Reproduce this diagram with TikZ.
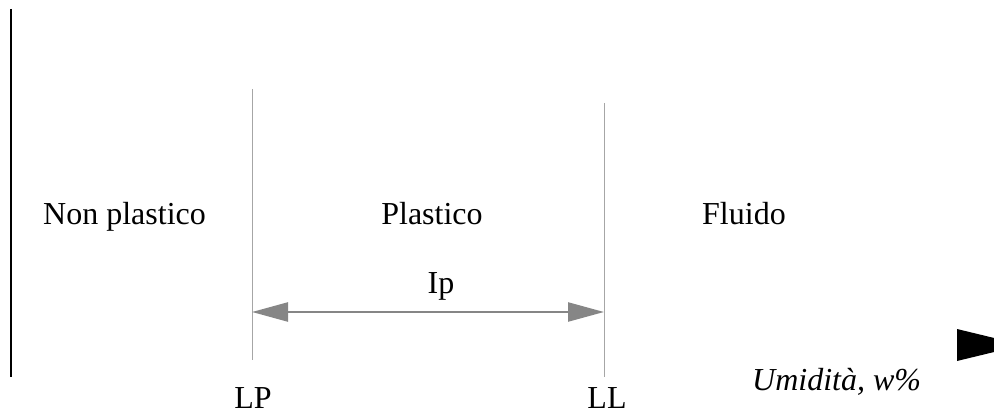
\documentclass[tikz,border=0pt]{standalone}
\usepackage{fontspec}
\setmainfont{Liberation Serif}
\usetikzlibrary{arrows.meta}
\begin{document}
\begin{tikzpicture}[x=1pt,y=-1pt,
  lbl/.style={font=\fontsize{32}{38}\selectfont, inner sep=0pt, anchor=base},
  limitline/.style={draw=gray!70, line width=0.8pt},
  iparrow/.style={draw=gray!95, line width=2.4pt, {Triangle[length=36pt,width=19pt,fill=gray!95]}-{Triangle[length=36pt,width=19pt,fill=gray!95]}}]
\useasboundingbox (0,0) rectangle (994,417);
\clip (0,0) rectangle (994,417);
% left axis
\coordinate (axtop) at (11,9);
\coordinate (axbot) at (11,377);
\draw[line width=2.8pt] (axtop) -- (axbot);
% limit lines
\coordinate (lptop) at (252,89);
\coordinate (lpbot) at (252,360);
\coordinate (lltop) at (604,103);
\coordinate (llbot) at (604,377);
\draw[limitline] (lptop) -- (lpbot);
\draw[limitline] (lltop) -- (llbot);
% Ip arrow
\coordinate (ipL) at (252,312);
\coordinate (ipR) at (604,312);
\draw[iparrow] (ipL) -- (ipR);
% axis arrowhead (cut by edge)
\fill (957,329) -- (1023,345) -- (957,361) -- cycle;
% labels
\node[lbl, anchor=base west] (np) at (43,225) {Non plastico};
\node[lbl] (pl) at (432,225) {Plastico};
\node[lbl, anchor=base west] (fl) at (702,225) {Fluido};
\node[lbl] (ip) at (441,293) {Ip};
\node[lbl] (lp) at (253,408) {LP};
\node[lbl] (ll) at (607,408) {LL};
\node[lbl, anchor=base west, font=\fontsize{32}{38}\selectfont\itshape] (um) at (752,390) {Umidità, w\%};
\end{tikzpicture}
\end{document}
